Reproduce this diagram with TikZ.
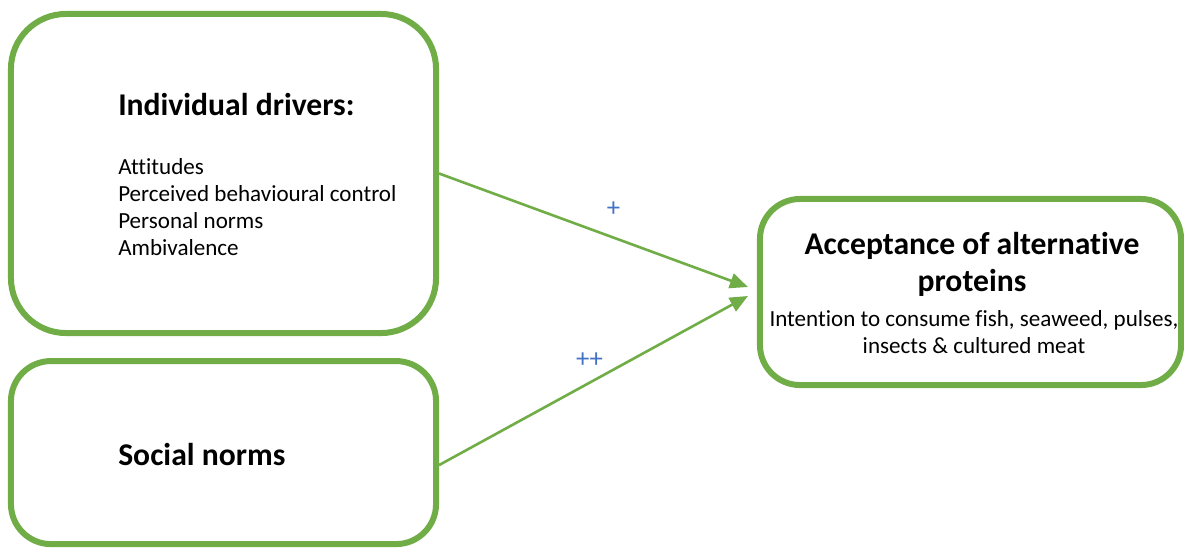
\documentclass[tikz,border=0pt]{standalone}
\usepackage{fontspec}
\setmainfont[Ligatures=NoCommon]{Carlito}
\usepackage{xcolor}
\usetikzlibrary{positioning, arrows.meta}
\definecolor{drivergreen}{RGB}{112,173,71}
\definecolor{signblue}{RGB}{68,114,196}

\begin{document}
\begin{tikzpicture}[
    x=0.025cm, y=-0.025cm,
    box/.style={rectangle, draw=drivergreen, line width=0.15cm, fill=white, minimum width=10.625cm},
    headtext/.style={font=\fontsize{22.5}{26.3}\selectfont\bfseries, inner sep=0pt},
    bodytext/.style={font=\fontsize{16.4}{19.2}\selectfont, inner sep=0pt},
    signtext/.style={font=\fontsize{19}{22}\selectfont, text=signblue},
    arrow/.style={-{Triangle[length=0.45cm, width=0.38cm]}, draw=drivergreen, line width=0.065cm}
]
    \useasboundingbox (0,0) rectangle (1184,548);

    % boxes
    \node[box, rounded corners=1.375cm, minimum height=7.975cm] (idvbox) at (223.5,173.5) {};
    \node[box, rounded corners=1cm, minimum height=4.575cm, below=0.55cm of idvbox] (socbox) {};
    \node[box, rounded corners=1cm, minimum width=10.525cm, minimum height=4.65cm] (accbox) at (970.5,292) {};

    % texts
    \node[headtext, anchor=base west] (idvhead) at (118,115) {Individual drivers:};
    \node[bodytext, align=left, anchor=north west] (idvlist) at (118,158)
        {Attitudes\\ Perceived behavioural control\\ Personal norms\\ Ambivalence};
    \node[headtext, anchor=base west] (sochead) at (118,465) {Social norms};
    \node[headtext, align=center, anchor=north] (acchead) at (972,232)
        {Acceptance of alternative\\ proteins};
    \node[bodytext, align=center, anchor=north] (accbody) at (974,310)
        {Intention to consume fish, seaweed, pulses,\\ insects \& cultured meat};

    % arrow ends
    \coordinate (tipa) at ([shift={(-9,-5)}]accbox.west);
    \coordinate (tipb) at ([shift={(-9,4)}]accbox.west);
    \coordinate (socout) at ([shift={(0,12.5)}]socbox.east);

    \draw[arrow] (idvbox.east) -- node[signtext, pos=0.565, yshift=0.7cm] (plusa) {+} (tipa);
    \draw[arrow] (socout) -- node[signtext, pos=0.487, yshift=0.575cm] (plusb) {++} (tipb);
\end{tikzpicture}
\end{document}
